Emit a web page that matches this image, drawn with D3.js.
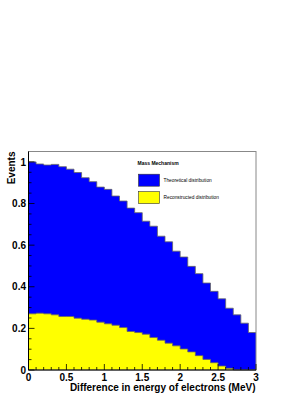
<!DOCTYPE html>
<html>
<head>
<meta charset="utf-8">
<script src="https://cdn.jsdelivr.net/npm/d3@7"></script>
<style>
  body { margin: 0; background: #fff; }
  text { font-family: "Liberation Sans", Arial, sans-serif; }
</style>
</head>
<body>
<script>
// histogram binning: 30 bins of 0.1 MeV from 0 to 3
var binWidth = 0.1;
var binLow = d3.range(0, 30).map(function(i) { return +(i * binWidth).toFixed(1); });

var theoretical = [1.00, 0.99, 0.985, 0.988, 0.977, 0.965, 0.949, 0.924, 0.905, 0.879,
                   0.868, 0.836, 0.812, 0.778, 0.756, 0.715, 0.691, 0.643, 0.616, 0.571,
                   0.543, 0.498, 0.463, 0.418, 0.378, 0.342, 0.297, 0.265, 0.225, 0.180];
var reconstructed = [0.270, 0.273, 0.270, 0.265, 0.257, 0.257, 0.249, 0.244, 0.240, 0.230,
                     0.222, 0.215, 0.204, 0.185, 0.180, 0.172, 0.156, 0.143, 0.129, 0.116,
                     0.101, 0.087, 0.069, 0.051, 0.035, 0.019, 0.008, 0, 0, 0];

var xTicks = [0, 0.5, 1, 1.5, 2, 2.5, 3];
var yTicks = [0, 0.2, 0.4, 0.6, 0.8, 1];
var legendTitle = "Mass Mechanism";
var seriesNames = ["Theoretical distribution", "Reconstructed distribution"];
var seriesColors = ["#0000ff", "#ffff00"];

var margin = {top: 151.5, right: 51, bottom: 28, left: 28.5},
    width = 307 - margin.left - margin.right,
    height = 398 - margin.top - margin.bottom;

var svg = d3.select("body")
  .append("svg")
    .attr("width", 307)
    .attr("height", 398)
  .append("g")
    .attr("transform", "translate(" + margin.left + "," + margin.top + ")");

var x = d3.scaleLinear().domain([0, 3]).range([0, width]);
var y = d3.scaleLinear().domain([0, 1.05]).range([height, 0]);

// turn bin contents into step points
function steps(vals) {
  var pts = binLow.map(function(b, i) { return [b, vals[i]]; });
  pts.push([binLow[binLow.length - 1] + binWidth, vals[vals.length - 1]]);
  return pts;
}

var area = d3.area()
  .curve(d3.curveStepAfter)
  .x(function(d) { return x(d[0]); })
  .y0(y(0))
  .y1(function(d) { return y(d[1]); });

var line = d3.line()
  .curve(d3.curveStepAfter)
  .x(function(d) { return x(d[0]); })
  .y(function(d) { return y(d[1]); });

[theoretical, reconstructed].forEach(function(vals, k) {
  svg.append("path")
    .attr("d", area(steps(vals)))
    .style("fill", seriesColors[k]);
  svg.append("path")
    .attr("d", line(steps(vals)))
    .style("fill", "none")
    .style("stroke", "#666")
    .style("stroke-width", 0.8);
});

// frame
svg.append("rect")
  .attr("width", width)
  .attr("height", height)
  .style("fill", "none")
  .style("stroke", "#888")
  .style("stroke-width", 1);

// x axis: ticks pointing inward
var xMinor = d3.range(0, 31).map(function(i) { return i / 10; });
svg.append("g").selectAll("line")
  .data(xMinor)
  .enter().append("line")
    .attr("x1", function(d) { return x(d); })
    .attr("x2", function(d) { return x(d); })
    .attr("y1", height)
    .attr("y2", function(d, i) { return height - (i % 5 == 0 ? 6 : 3); })
    .style("stroke", "#000")
    .style("stroke-width", 0.8);

svg.append("line")
  .attr("x1", 0).attr("x2", width)
  .attr("y1", height).attr("y2", height)
  .style("stroke", "#000");

svg.append("g").selectAll("text")
  .data(xTicks)
  .enter().append("text")
    .attr("x", function(d) { return x(d); })
    .attr("y", height + 10.7)
    .attr("text-anchor", "middle")
    .style("font-size", "10px")
    .style("font-weight", "bold")
    .text(function(d) { return d; });

// y axis
var yMinor = d3.range(0, 21).map(function(i) { return i / 20; });
svg.append("g").selectAll("line")
  .data(yMinor)
  .enter().append("line")
    .attr("x1", 0)
    .attr("x2", function(d, i) { return i % 4 == 0 ? 6 : 3; })
    .attr("y1", function(d) { return y(d); })
    .attr("y2", function(d) { return y(d); })
    .style("stroke", "#000")
    .style("stroke-width", 0.8);

svg.append("line")
  .attr("x1", 0).attr("x2", 0)
  .attr("y1", 0).attr("y2", height)
  .style("stroke", "#000");

svg.append("g").selectAll("text")
  .data(yTicks)
  .enter().append("text")
    .attr("x", -2.5)
    .attr("y", function(d) { return y(d) + 3.6; })
    .attr("text-anchor", "end")
    .style("font-size", "10px")
    .style("font-weight", "bold")
    .text(function(d) { return d; });

// axis titles
svg.append("text")
  .attr("text-anchor", "end")
  .attr("x", width - 0.5)
  .attr("y", height + 20.8)
  .style("font-size", "10px")
  .style("font-weight", "bold")
  .text("Difference in energy of electrons (MeV)");

svg.append("text")
  .attr("text-anchor", "end")
  .attr("transform", "translate(" + (14.8 - margin.left) + ",0) rotate(-90)")
  .style("font-size", "10px")
  .style("font-weight", "bold")
  .text("Events");

// legend
var legend = svg.append("g")
  .attr("transform", "translate(" + (137.5 - margin.left) + "," + (165.2 - margin.top) + ")");

legend.append("text")
  .attr("x", 0)
  .attr("y", 0)
  .style("font-size", "5px")
  .style("font-weight", "bold")
  .text(legendTitle);

seriesNames.forEach(function(name, k) {
  legend.append("rect")
    .attr("x", 1)
    .attr("y", 9 + k * 17.4)
    .attr("width", 21)
    .attr("height", 12)
    .style("fill", seriesColors[k])
    .style("stroke", "#333")
    .style("stroke-width", 0.6);
  legend.append("text")
    .attr("x", 26)
    .attr("y", 16.8 + k * 17.4)
    .style("font-size", "4.8px")
    .text(name);
});
</script>
</body>
</html>
